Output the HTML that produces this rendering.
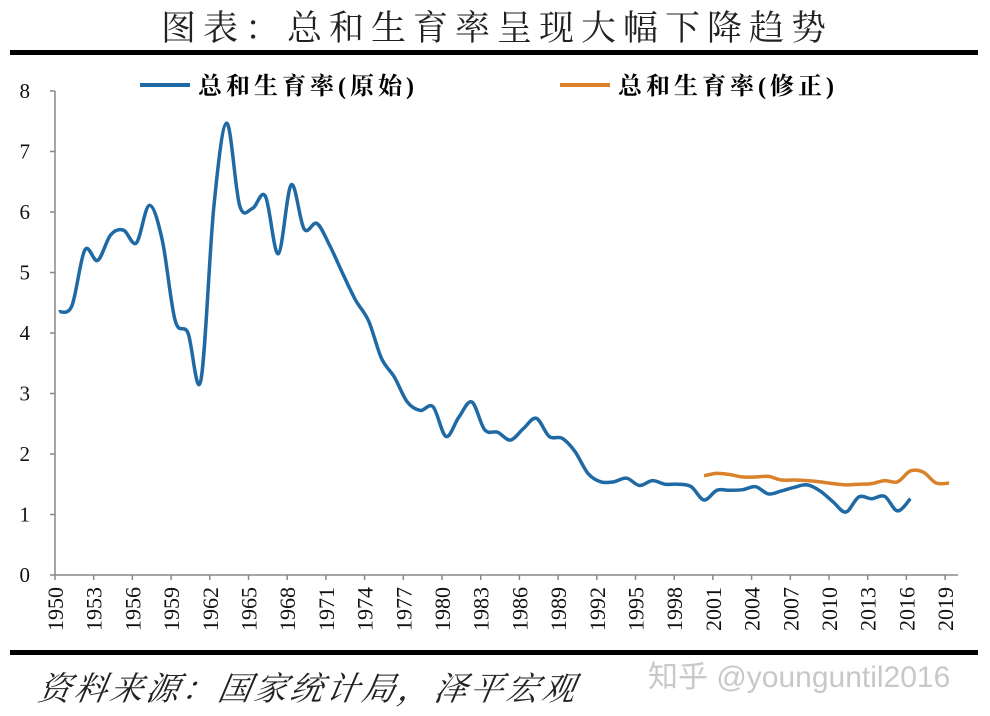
<!DOCTYPE html>
<html><head><meta charset="utf-8">
<style>
body{margin:0;background:#fff;width:990px;height:716px;overflow:hidden}
svg{display:block}
</style></head>
<body>
<svg id="chart" width="990" height="716">
<text x="497" y="40" text-anchor="middle" font-family="'Liberation Serif','Noto Serif CJK SC',serif" font-size="35" fill="#222" letter-spacing="7">图表：总和生育率呈现大幅下降趋势</text>
<rect x="10" y="50" width="968" height="5" fill="#000"/>
<rect x="10" y="650" width="968" height="5" fill="#000"/>
<g>
<line x1="140" y1="85" x2="190" y2="85" stroke="#1f6aa5" stroke-width="4"/>
<text x="198" y="94" font-family="'Liberation Serif','Noto Serif CJK SC',serif" font-weight="bold" font-size="24" fill="#000" letter-spacing="4">总和生育率(原始)</text>
<line x1="560" y1="85" x2="610" y2="85" stroke="#d9822b" stroke-width="4"/>
<text x="618" y="94" font-family="'Liberation Serif','Noto Serif CJK SC',serif" font-weight="bold" font-size="24" fill="#000" letter-spacing="4">总和生育率(修正)</text>
</g>
<g id="axes"></g>
<g id="series"></g>
<text x="38" y="700" font-family="'Liberation Serif','Noto Serif CJK SC',serif" font-style="italic" font-size="33" fill="#222" letter-spacing="3" transform="skewX(-10) translate(122,0)">资料来源：国家统计局，泽平宏观</text>
<text x="648" y="687" font-family="'Liberation Sans','Noto Sans CJK SC',sans-serif" font-size="30" fill="#c8c8c8">知乎 @younguntil2016</text>
</svg>
<script>
const years=[];for(let y=1950;y<=2019;y++)years.push(y);
const yTicks=[0,1,2,3,4,5,6,7,8];
const xTickYears=[1950,1953,1956,1959,1962,1965,1968,1971,1974,1977,1980,1983,1986,1989,1992,1995,1998,2001,2004,2007,2010,2013,2016,2019];
const originalYears=[];for(let y=1950;y<=2016;y++)originalYears.push(y);
const originalValues=[4.35,4.45,5.37,5.2,5.62,5.7,5.49,6.11,5.54,4.21,4.0,3.22,6.08,7.47,6.11,6.06,6.26,5.31,6.45,5.72,5.81,5.44,4.98,4.54,4.2,3.58,3.27,2.86,2.72,2.78,2.29,2.61,2.86,2.4,2.36,2.23,2.42,2.59,2.29,2.26,2.04,1.68,1.54,1.54,1.6,1.48,1.56,1.5,1.5,1.46,1.24,1.4,1.4,1.41,1.46,1.34,1.39,1.45,1.49,1.39,1.21,1.04,1.29,1.26,1.3,1.06,1.26];
const revisedYears=[];for(let y=2000;y<=2019;y++)revisedYears.push(y);
const revisedValues=[1.64,1.68,1.66,1.62,1.62,1.63,1.57,1.57,1.56,1.54,1.51,1.49,1.5,1.51,1.56,1.54,1.72,1.70,1.52,1.52];

const NS='http://www.w3.org/2000/svg';
const X0=55,XSTEP=12.9,Y0=575,YUNIT=60.5;
function xTick(yr){return X0+(yr-1950)*XSTEP;}
function xPt(yr){return X0+4+(yr-1950)*XSTEP;}
function yS(v){return Y0-v*YUNIT;}
function mk(tag,attrs,parent){const e=document.createElementNS(NS,tag);for(const k in attrs)e.setAttribute(k,attrs[k]);parent.appendChild(e);return e;}
const axes=document.getElementById('axes');
const font="'Liberation Serif','DejaVu Serif',serif";
let yax=mk('line',{x1:X0,y1:yS(8),x2:X0,y2:Y0,stroke:'#888','stroke-width':1.5},axes);


let xax=mk('line',{x1:X0,y1:Y0,x2:958,y2:Y0,stroke:'#888','stroke-width':1.5},axes);


yTicks.forEach(v=>{
 const t=mk('line',{x1:X0-5,y1:yS(v),x2:X0,y2:yS(v),stroke:'#888','stroke-width':1.5},axes);
 
 
 const l=mk('text',{x:30,y:yS(v)+7,'text-anchor':'end','font-family':font,'font-size':21,fill:'#111'},axes);
 l.textContent=v;
 
 
});
xTickYears.forEach(yr=>{
 const x=xTick(yr);
 const t=mk('line',{x1:x,y1:Y0,x2:x,y2:Y0+5,stroke:'#888','stroke-width':1.5},axes);
 
 
 const l=mk('text',{x:0,y:0,'text-anchor':'end','font-family':font,'font-size':22,fill:'#111',transform:`translate(${x+8},${Y0+12}) rotate(-90)`},axes);
 l.textContent=yr;
 
 
});
function smooth(pts){
 let d=`M${pts[0][0]},${pts[0][1]}`;
 for(let i=0;i<pts.length-1;i++){
  const p0=pts[i-1]||pts[i],p1=pts[i],p2=pts[i+1],p3=pts[i+2]||p2;
  const c1=[p1[0]+(p2[0]-p0[0])/6,p1[1]+(p2[1]-p0[1])/6];
  const c2=[p2[0]-(p3[0]-p1[0])/6,p2[1]-(p3[1]-p1[1])/6];
  d+=` C${c1[0]},${c1[1]} ${c2[0]},${c2[1]} ${p2[0]},${p2[1]}`;
 }
 return d;
}
const series=document.getElementById('series');
const p1=mk('path',{d:smooth(originalYears.map((y,i)=>[xPt(y),yS(originalValues[i])])),fill:'none',stroke:'#1f6aa5','stroke-width':3.5,'stroke-linejoin':'round'},series);


const p2=mk('path',{d:smooth(revisedYears.map((y,i)=>[xPt(y),yS(revisedValues[i])])),fill:'none',stroke:'#d9822b','stroke-width':3.5,'stroke-linejoin':'round'},series);


</script>
</body></html>
